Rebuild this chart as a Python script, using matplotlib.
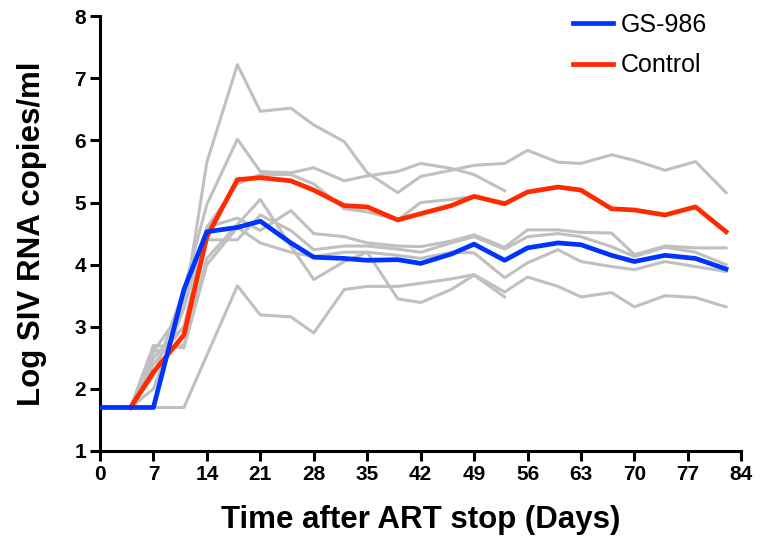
import matplotlib
matplotlib.use("Agg")
import matplotlib.pyplot as plt

# sampling days after ART stop
days = [0, 4, 7, 11, 14, 18, 21, 25, 28, 32, 35, 39, 42, 46, 49, 53,
        56, 60, 63, 67, 70, 74, 78, 82]

# group means
gs986 = [1.7, 1.7, 1.7, 3.6, 4.53, 4.6, 4.7, 4.35, 4.12, 4.1, 4.07, 4.08,
         4.02, 4.17, 4.33, 4.07, 4.27, 4.35, 4.32, 4.15, 4.05, 4.15, 4.1, 3.93]
control = [1.7, 1.7, 2.27, 2.87, 4.45, 5.37, 5.4, 5.35, 5.2, 4.95, 4.93, 4.72,
           4.82, 4.95, 5.1, 4.98, 5.17, 5.25, 5.2, 4.9, 4.88, 4.8, 4.93, 4.53]

# individual animals (some stop at day 53)
animal_1 = [1.7, 1.7, 2.0, 3.3, 5.65, 7.22, 6.47, 6.52, 6.25, 5.98, 5.48, 5.16,
            5.42, 5.52, 5.6, 5.63, 5.84, 5.65, 5.63, 5.77, 5.68, 5.52, 5.66, 5.16]
animal_2 = [1.7, 1.7, 2.2, 3.6, 4.97, 6.02, 5.5, 5.48, 5.56, 5.35, 5.43, 5.5,
            5.63, 5.55, 5.45, 5.19]
animal_3 = [1.7, 1.7, 2.5, 3.0, 4.6, 5.3, 5.45, 5.45, 5.3, 4.9, 4.85, 4.72,
            5.0, 5.05, 5.1, 5.0]
animal_4 = [1.7, 1.7, 2.6, 3.3, 4.6, 4.75, 4.55, 4.87, 4.5, 4.45, 4.35, 4.3,
            4.29, 4.38, 4.48, 4.28, 4.56, 4.56, 4.52, 4.51, 4.16, 4.3, 4.27, 4.27]
animal_5 = [1.7, 1.7, 2.4, 3.0, 4.4, 4.4, 4.8, 4.55, 4.24, 4.3, 4.3, 4.25,
            4.2, 4.35, 4.45, 4.25, 4.45, 4.5, 4.45, 4.29, 4.13, 4.28, 4.2, 4.0]
animal_6 = [1.7, 1.7, 2.7, 2.66, 4.0, 4.6, 4.35, 4.2, 4.13, 4.2, 4.2, 4.15,
            4.1, 4.2, 4.19, 3.79, 4.03, 4.24, 4.05, 3.97, 3.92, 4.05, 3.97, 3.89]
animal_7 = [1.7, 1.7, 2.6, 2.7, 4.1, 4.65, 5.05, 4.3, 3.76, 4.05, 4.2, 3.45,
            3.39, 3.6, 3.83, 3.48]
animal_8 = [1.7, 1.7, 1.7, 1.7, 2.54, 3.66, 3.19, 3.16, 2.9, 3.6, 3.65, 3.65,
            3.7, 3.77, 3.84, 3.56, 3.8, 3.65, 3.48, 3.55, 3.32, 3.5, 3.47, 3.32]

animals = [animal_1, animal_2, animal_3, animal_4,
           animal_5, animal_6, animal_7, animal_8]

plt.rcParams['font.family'] = ['Liberation Sans', 'DejaVu Sans']

fig = plt.figure(figsize=(7.69, 5.42), dpi=100)
ax = fig.add_axes([0.130, 0.168, 0.834, 0.802])

for a in animals:
    ax.plot(days[:len(a)], a, color="#c0c0c0", lw=2.2, zorder=1)

ax.plot(days[1:], control[1:], color="#ff2a00", lw=3.4, label="Control", zorder=3)
ax.plot(days, gs986, color="#0033ff", lw=3.4, label="GS-986", zorder=4)

ax.set_xlim(0, 84)
ax.set_ylim(1, 8)
ax.set_xticks(range(0, 85, 7))
ax.set_yticks(range(1, 9))

for side in ["top", "right"]:
    ax.spines[side].set_visible(False)
for side in ["left", "bottom"]:
    ax.spines[side].set_linewidth(2.2)
ax.tick_params(width=2.2, length=7, direction="out", labelsize=15, pad=3)
for lbl in ax.get_xticklabels() + ax.get_yticklabels():
    lbl.set_fontweight("bold")

ax.set_xlabel("Time after ART stop (Days)", fontsize=22.5, fontweight="bold",
              labelpad=15)
ax.set_ylabel("Log SIV RNA copies/ml", fontsize=22.5, fontweight="bold",
              labelpad=20)

handles, labels = ax.get_legend_handles_labels()
ax.legend(handles[::-1], labels[::-1], loc="upper left", frameon=False,
          fontsize=18, handlelength=1.6, handletextpad=0.3, borderaxespad=0.0,
          bbox_to_anchor=(0.722, 1.03), labelspacing=0.65)

fig.savefig("out.png", dpi=100)
